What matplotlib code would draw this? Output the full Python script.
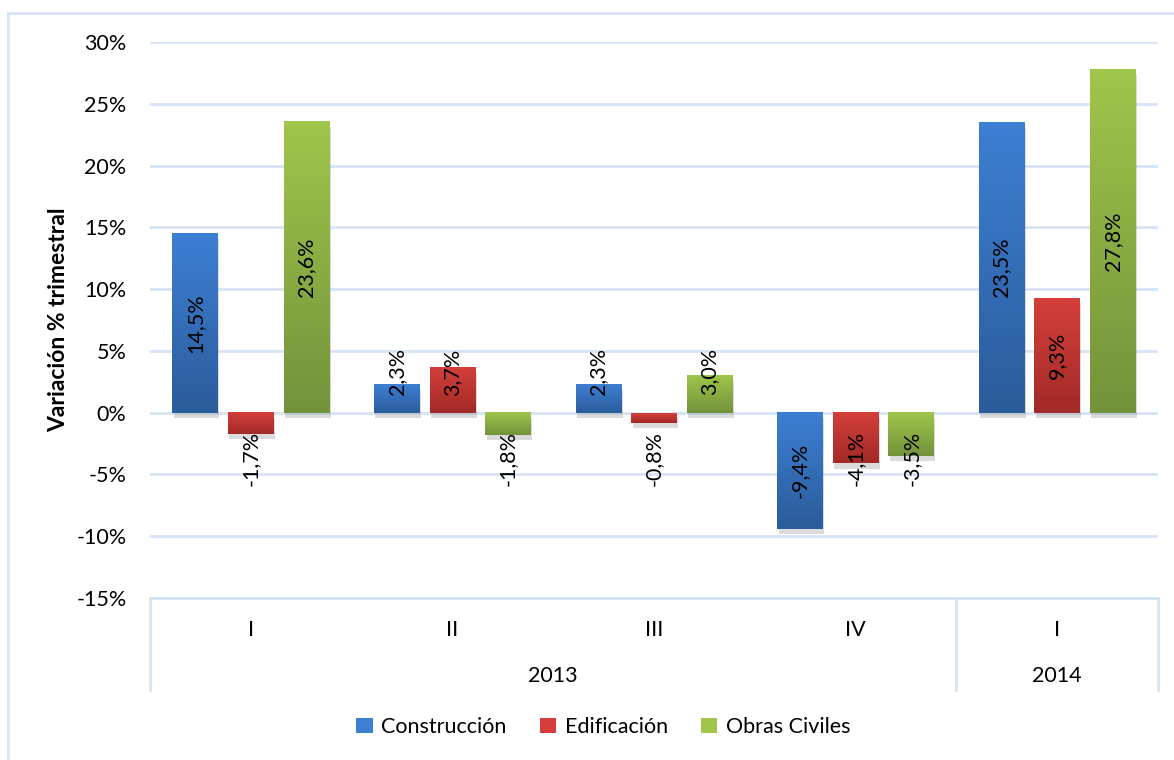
import numpy as np
import matplotlib
matplotlib.use("Agg")
import matplotlib.pyplot as plt
from matplotlib.colors import LinearSegmentedColormap
from matplotlib.patches import Rectangle, Patch
import matplotlib.patheffects as pe

plt.rcParams['font.family'] = ['Lato', 'DejaVu Sans']

# data (quarterly % change)
quarters = ['I', 'II', 'III', 'IV', 'I']
years = ['2013', '2014']
year_spans = [(0, 3), (4, 4)]
series = ['Construcción', 'Edificación', 'Obras Civiles']
construccion = [14.5, 2.3, 2.3, -9.4, 23.5]
edificacion = [-1.7, 3.7, -0.8, -4.1, 9.3]
obras_civiles = [23.6, -1.8, 3.0, -3.5, 27.8]
values = [construccion, edificacion, obras_civiles]

# gradient colours (top, bottom)
grads = [('#3d7fd3', '#2b5c9b'), ('#d43f3b', '#a22a27'), ('#9fc54b', '#73933a')]
grid_col = '#d6e3f3'

fig = plt.figure(figsize=(11.74, 7.6), dpi=100)
ax = fig.add_axes([150/1174, 1-598/760, 1008/1174, 556/760])

x = np.arange(len(quarters))
width = 0.226
offsets = [-0.276, 0, 0.276]
grad = np.linspace(0, 1, 64).reshape(-1, 1)

for vals, off, (c_top, c_bot) in zip(values, offsets, grads):
    cmap = LinearSegmentedColormap.from_list('g', [c_top, c_bot])
    bars = ax.bar(x + off, vals, width, color=c_bot, zorder=2)
    for b, v in zip(bars, vals):
        b.set_path_effects([pe.SimplePatchShadow(offset=(1, -4), shadow_rgbFace='#8a8a8a', alpha=0.3),
                            pe.Normal()])
        x0 = b.get_x()
        ax.imshow(grad, cmap=cmap, extent=[x0, x0 + width, min(v, 0), max(v, 0)],
                  origin='upper', aspect='auto', zorder=3)
        # label centered in bar, pushed out for short bars
        yc = v / 2
        if v >= 0:
            yc = max(yc, 3.3)
        else:
            yc = min(yc, -3.7)
        ax.text(x0 + width / 2, yc, f'{v:.1f}%'.replace('.', ','), rotation=90,
                ha='center', va='center', fontsize=15.5, color='black', zorder=4)

ax.set_xlim(-0.5, len(quarters) - 0.5)
ax.set_ylim(-15, 30)
ax.set_yticks(np.arange(-15, 31, 5))
ax.set_yticklabels([f'{t}%' for t in range(-15, 31, 5)], fontsize=15.5)
ax.tick_params(axis='y', length=0, pad=17)
ax.set_xticks([])
ax.yaxis.grid(True, color=grid_col, linewidth=2, zorder=0)
ax.set_axisbelow(True)
for s in ['top', 'right', 'left']:
    ax.spines[s].set_visible(False)
ax.spines['bottom'].set_color(grid_col)
ax.spines['bottom'].set_linewidth(2)
ax.set_ylabel('Variación % trimestral', fontsize=16.5, fontweight='bold', labelpad=5)

# multi-level category axis
trans = ax.get_xaxis_transform()
for i, q in enumerate(quarters):
    ax.text(i, -0.058, q, transform=trans, ha='center', va='center', fontsize=15.5)
for yr, (a, b) in zip(years, year_spans):
    ax.text((a + b) / 2, -0.141, yr, transform=trans, ha='center', va='center', fontsize=15.5)
for xs in [-0.5, 3.5, 4.5]:
    ax.plot([xs, xs], [0, -0.166], transform=trans, color=grid_col, lw=2, clip_on=False)

# legend
handles = [Patch(facecolor=c_top, edgecolor='none') for c_top, c_bot in grads]
fig.legend(handles, series, loc='center', bbox_to_anchor=(0.514, 1 - 727/760), ncol=3,
           frameon=False, fontsize=15.5, handlelength=0.75, handleheight=0.75,
           handletextpad=0.4, columnspacing=1.55)

# outer chart border
fig.add_artist(Rectangle((8/1174, -0.05), 1.1, 1.05 - 13/760, transform=fig.transFigure,
                         fill=False, edgecolor=grid_col, lw=2))

fig.savefig('out.png', dpi=100)
